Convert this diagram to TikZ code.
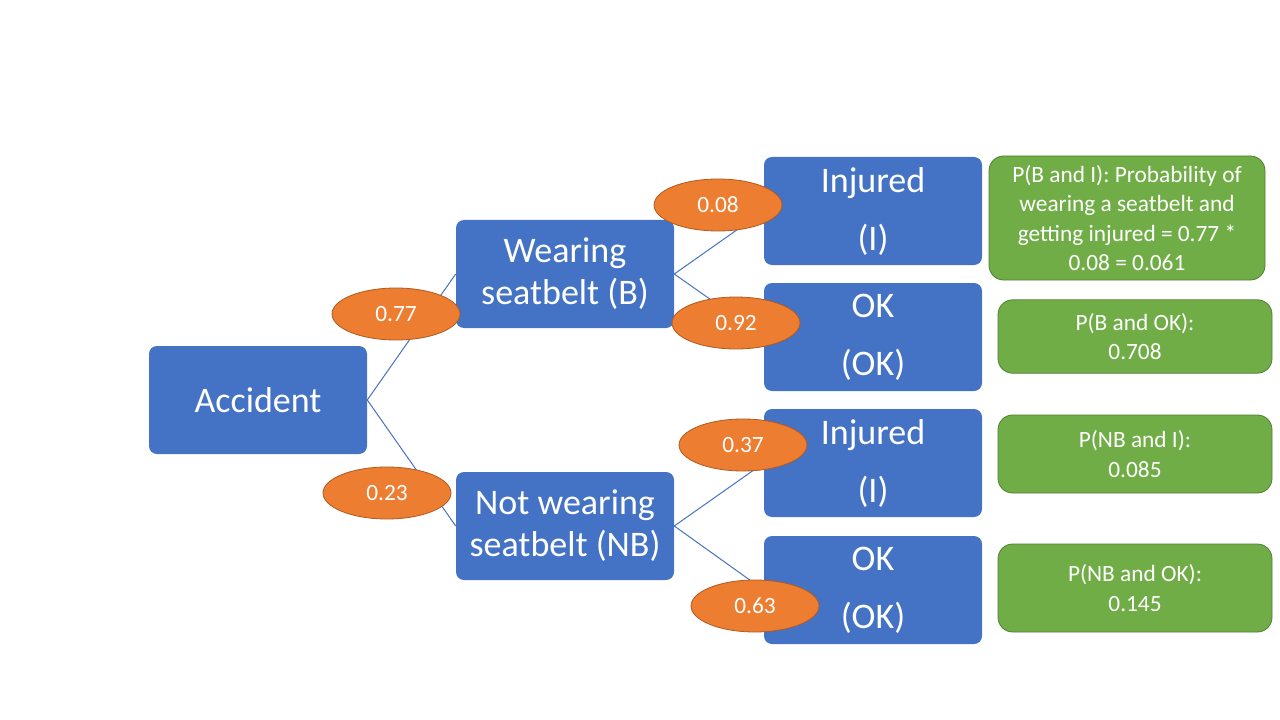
\documentclass[tikz,border=0pt]{standalone}
\usepackage{fontspec}
\setmainfont{Carlito}
\usetikzlibrary{%
  shapes.geometric,% wg. ellipse
  positioning%
}
\definecolor{evblue}{HTML}{4472C4}
\definecolor{prorange}{HTML}{ED7D31}
\definecolor{prorangeline}{HTML}{AE5A21}
\definecolor{jtgreen}{HTML}{70AD47}
\definecolor{jtgreenline}{HTML}{507E32}

\begin{document}
\begin{tikzpicture}[x=0.75pt,y=-0.75pt,
  event/.style={rectangle, rounded corners=6pt, fill=evblue, text=white, align=center,
    minimum width=163.5pt, minimum height=81pt, inner sep=0pt},
  evfont/.style={font=\fontsize{27}{31.5}\selectfont},
  leaffont/.style={font=\fontsize{27}{43.5}\selectfont},
  prob/.style={ellipse, fill=prorange, draw=prorangeline, line width=0.6pt, text=white,
    minimum width=96pt, minimum height=39pt, inner sep=0pt, font=\fontsize{17.5}{21}\selectfont},
  joint/.style={rectangle, rounded corners=11pt, fill=jtgreen, draw=jtgreenline, line width=0.6pt,
    text=white, align=center, minimum width=205.5pt, inner sep=0pt, font=\fontsize{17.5}{22}\selectfont},
  branch/.style={draw=evblue, line width=0.75pt}]
\path[use as bounding box] (0,0) rectangle (1280,720);

%Root and first level events
\node[event,evfont] (acc) at (258,400) {Accident};
\node[event,evfont] (belt) at (565,274) {Wearing\\seatbelt (B)};
\node[event,evfont] (nobelt) at (565,526) {Not wearing\\seatbelt (NB)};

% Second level events
\node[event,leaffont] (beltinj) at (873,211) {Injured\\(I)};
\node[event,leaffont] (beltok) at (873,337) {OK\\(OK)};
\node[event,leaffont] (nobeltinj) at (873,463) {Injured\\(I)};
\node[event,leaffont] (nobeltok) at (873,590) {OK\\(OK)};

% Joint probabilities
\node[joint, minimum width=207pt, minimum height=93pt] (jBI) at (1127,218) {P(B and I): Probability of\\wearing a seatbelt and\\getting injured = 0.77 *\\0.08 = 0.061};
\node[joint, minimum height=55pt] (jBOK) at (1135,336.5) {P(B and OK):\\0.708};
\node[joint, minimum height=58.5pt] (jNBI) at (1135,454) {P(NB and I):\\0.085};
\node[joint, minimum height=66pt] (jNBOK) at (1135,588) {P(NB and OK):\\0.145};

% Branches
\draw[branch] (acc.east) -- (belt.west);
\draw[branch] (acc.east) -- (nobelt.west);
\draw[branch] (belt.east) -- (beltinj.west);
\draw[branch] (belt.east) -- (beltok.west);
\draw[branch] (nobelt.east) -- (nobeltinj.west);
\draw[branch] (nobelt.east) -- (nobeltok.west);

% Branch probabilities on top
\node[prob] (p77) at (396,314) {0.77};
\node[prob] (p23) at (387,493) {0.23};
\node[prob] (p08) at (718,205) {0.08};
\node[prob] (p92) at (736,323) {0.92};
\node[prob] (p37) at (743,445) {0.37};
\node[prob] (p63) at (755,606) {0.63};
\end{tikzpicture}
\end{document}
